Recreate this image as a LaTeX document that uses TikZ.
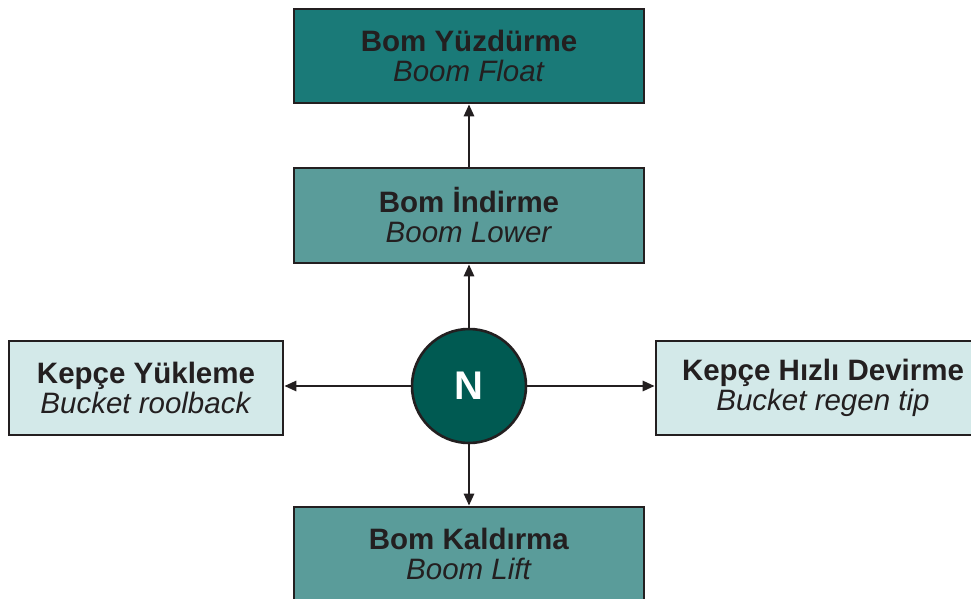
\documentclass[tikz,border=0pt]{standalone}
\usepackage{fontspec}
\setmainfont{Liberation Sans}
\usetikzlibrary{arrows.meta}
\definecolor{txt}{RGB}{35,31,32}
\definecolor{darkteal}{RGB}{26,122,120}
\definecolor{midteal}{RGB}{90,156,154}
\definecolor{paleteal}{RGB}{211,233,233}
\definecolor{circteal}{RGB}{0,90,82}
\tikzset{
  box/.style={draw=txt, line width=2.6pt, text=txt, align=center, inner sep=0pt,
    font=\fontsize{29.5}{30}\selectfont},
  conn/.style={draw=txt, line width=2.6pt, -{Triangle[length=12pt,width=10pt]}},
}
\newcommand{\twolines}[2]{\textbf{#1}\\\textit{#2}}
\begin{document}
\begin{tikzpicture}[x=1pt,y=-1pt]
\clip (0,0) rectangle (971,599);
\fill[white] (0,0) rectangle (971,599);
\node[box, fill=darkteal, minimum width=350pt, minimum height=94pt] (float) at (469,56) {\twolines{Bom Yüzdürme}{Boom Float}};
\node[box, fill=midteal, minimum width=350pt, minimum height=95pt] (lower) at (469,215.5) {\twolines{Bom İndirme}{Boom Lower}};
\node[box, fill=paleteal, minimum width=274pt, minimum height=94pt] (roll) at (146,388) {\twolines{Kepçe Yükleme}{Bucket roolback}};
\node[box, fill=paleteal, minimum width=334pt, minimum height=94pt] (regen) at (823,388) {\twolines{Kepçe Hızlı Devirme}{Bucket regen tip}};
\node[box, fill=midteal, minimum width=350pt, minimum height=94pt] (lift) at (469,554) {\twolines{Bom Kaldırma}{Boom Lift}};
\node[circle, draw=txt, line width=2.6pt, fill=circteal, minimum size=114pt, inner sep=0pt, text=white, font=\fontsize{40}{40}\selectfont\bfseries] (n) at (469,386) {N};
\draw[conn] (n.north) -- (lower.south);
\draw[conn] (lower.north) -- (float.south);
\draw[conn] (n.west) -- (n.west -| roll.east);
\draw[conn] (n.east) -- (n.east -| regen.west);
\draw[conn] (n.south) -- (lift.north);
\end{tikzpicture}
\end{document}
